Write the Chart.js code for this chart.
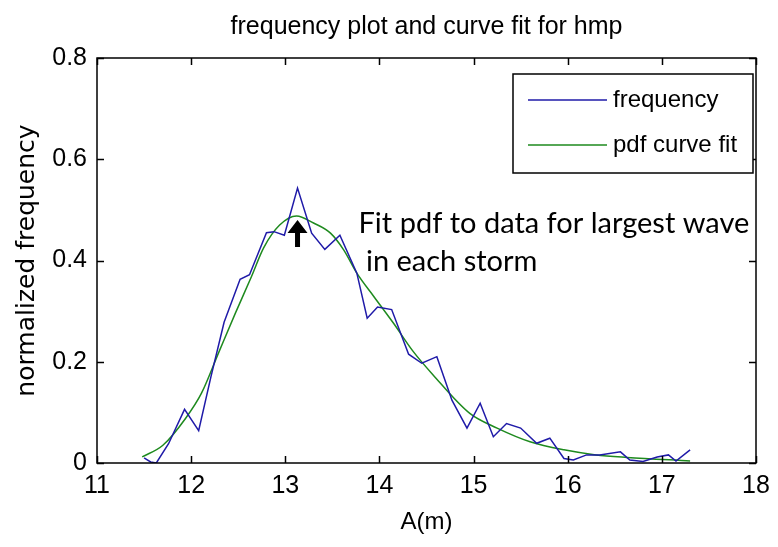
<!DOCTYPE html>
<html>
<head>
<meta charset="utf-8">
<title>frequency plot and curve fit for hmp</title>
<script src="https://cdn.jsdelivr.net/npm/chart.js@4.4.1/dist/chart.umd.min.js"></script>
<style>
  html, body { margin: 0; padding: 0; background: #fff; }
  #wrap { width: 778px; height: 547px; }
</style>
</head>
<body>
<div id="wrap"><canvas id="hmpChart" width="778" height="547"></canvas></div>
<script>
// largest wave in each storm: normalized histogram (blue) and fitted pdf (green)
const freqA = [11.50, 11.57, 11.63, 11.76, 11.93, 12.08, 12.21, 12.35, 12.52, 12.62,
               12.80, 12.88, 12.99, 13.13, 13.28, 13.42, 13.58, 13.76, 13.87, 13.98,
               14.13, 14.31, 14.45, 14.61, 14.77, 14.93, 15.07, 15.21, 15.35, 15.50,
               15.67, 15.81, 15.96, 16.06, 16.20, 16.34, 16.56, 16.66, 16.80, 16.95,
               17.07, 17.15, 17.30];
const freqVal = [0.010, 0.002, 0.000, 0.038, 0.106, 0.064, 0.170, 0.278, 0.363, 0.372,
                 0.455, 0.457, 0.450, 0.543, 0.454, 0.422, 0.450, 0.375, 0.286, 0.308,
                 0.303, 0.215, 0.197, 0.210, 0.124, 0.069, 0.118, 0.052, 0.078, 0.069,
                 0.039, 0.049, 0.009, 0.006, 0.016, 0.016, 0.022, 0.006, 0.003, 0.012,
                 0.016, 0.004, 0.026];

const fitA = [11.48, 11.70, 11.94, 12.11, 12.29, 12.47, 12.64, 12.77, 12.94, 13.12,
              13.30, 13.48, 13.62, 13.76, 13.94, 14.15, 14.36, 14.57, 14.96, 15.25,
              15.60, 15.96, 16.30, 16.63, 17.30];
const fitVal = [0.012, 0.035, 0.088, 0.138, 0.217, 0.296, 0.368, 0.425, 0.470, 0.488,
                0.474, 0.454, 0.421, 0.375, 0.329, 0.276, 0.220, 0.174, 0.098, 0.069,
                0.042, 0.026, 0.016, 0.011, 0.004];

const seriesNames = ['frequency', 'pdf curve fit'];
const seriesColors = ['#1f1aa8', '#1e8a1e'];

const noteLines = ['Fit pdf to data for largest wave', ' in each storm'];
const notePeak = [13.13, 0.48];   // where the arrow points

function toPoints(xs, ys) {
    return xs.map((x, i) => ({x: x, y: ys[i]}));
}

// closed box with ticks pointing inwards on all four sides
const boxAxes = {
    id: 'boxAxes',
    afterDatasetsDraw(chart) {
        const {ctx, chartArea: a, scales: {x, y}} = chart;
        const len = 7;
        ctx.save();
        ctx.strokeStyle = '#000';
        ctx.lineWidth = 1.5;
        ctx.strokeRect(a.left, a.top, a.right - a.left, a.bottom - a.top);
        ctx.beginPath();
        x.ticks.forEach(t => {
            const px = Math.round(x.getPixelForValue(t.value)) + 0.5;
            ctx.moveTo(px, a.bottom); ctx.lineTo(px, a.bottom - len);
            ctx.moveTo(px, a.top); ctx.lineTo(px, a.top + len);
        });
        y.ticks.forEach(t => {
            const py = Math.round(y.getPixelForValue(t.value)) + 0.5;
            ctx.moveTo(a.left, py); ctx.lineTo(a.left + len, py);
            ctx.moveTo(a.right, py); ctx.lineTo(a.right - len, py);
        });
        ctx.stroke();
        ctx.restore();
    }
};

// legend box in the upper right corner of the axes
const boxLegend = {
    id: 'boxLegend',
    afterDraw(chart) {
        const {ctx, chartArea: a} = chart;
        const w = 240, h = 99;
        const left = a.right - 3 - w, top = a.top + 16;
        ctx.save();
        ctx.fillStyle = '#fff';
        ctx.fillRect(left, top, w, h);
        ctx.strokeStyle = '#000';
        ctx.lineWidth = 1.5;
        ctx.strokeRect(left, top, w, h);
        ctx.font = '24px "Liberation Sans", Arial, sans-serif';
        ctx.textBaseline = 'middle';
        ctx.fillStyle = '#000';
        chart.data.datasets.forEach((ds, i) => {
            const yy = top + 26 + i * 45;
            ctx.strokeStyle = ds.borderColor;
            ctx.lineWidth = 1.5;
            ctx.beginPath();
            ctx.moveTo(left + 15, yy);
            ctx.lineTo(left + 94, yy);
            ctx.stroke();
            ctx.fillText(ds.label, left + 100, yy);
        });
        ctx.restore();
    }
};

// annotation text and the arrow at the peak
const peakNote = {
    id: 'peakNote',
    afterDraw(chart) {
        const {ctx, scales: {x, y}} = chart;
        const tx = x.getPixelForValue(notePeak[0]);
        const ty = y.getPixelForValue(notePeak[1]);
        ctx.save();
        ctx.fillStyle = '#000';
        ctx.beginPath();
        ctx.moveTo(tx, ty);
        ctx.lineTo(tx + 10, ty + 13);
        ctx.lineTo(tx + 2.5, ty + 13);
        ctx.lineTo(tx + 2.5, ty + 27);
        ctx.lineTo(tx - 2.5, ty + 27);
        ctx.lineTo(tx - 2.5, ty + 13);
        ctx.lineTo(tx - 10, ty + 13);
        ctx.closePath();
        ctx.fill();
        ctx.font = '29px Lato, "Open Sans", sans-serif';
        ctx.textBaseline = 'alphabetic';
        ctx.fillText(noteLines[0], tx + 61, ty + 13);
        ctx.fillText(noteLines[1], tx + 61, ty + 51);
        ctx.restore();
    }
};

const tickFont = {family: '"Liberation Sans", Arial, sans-serif', size: 25};

new Chart(document.getElementById('hmpChart'), {
    type: 'line',
    data: {
        datasets: [{
            label: seriesNames[0],
            data: toPoints(freqA, freqVal),
            borderColor: seriesColors[0],
            borderWidth: 1.5,
            pointRadius: 0,
            tension: 0
        }, {
            label: seriesNames[1],
            data: toPoints(fitA, fitVal),
            borderColor: seriesColors[1],
            borderWidth: 1.5,
            pointRadius: 0,
            cubicInterpolationMode: 'monotone'
        }]
    },
    options: {
        responsive: false,
        animation: false,
        devicePixelRatio: 1,
        layout: {padding: {left: 0, right: 22, top: 0, bottom: 0}},
        plugins: {
            legend: {display: false},
            tooltip: {enabled: false},
            title: {
                display: true,
                fullSize: false,
                text: 'frequency plot and curve fit for hmp',
                color: '#000',
                font: {family: '"Liberation Sans", Arial, sans-serif', size: 25, weight: 'normal'},
                padding: {top: 12, bottom: 16}
            }
        },
        scales: {
            x: {
                type: 'linear',
                min: 11,
                max: 18,
                grid: {display: false, drawTicks: false},
                border: {display: false},
                ticks: {stepSize: 1, color: '#000', font: tickFont, padding: 8, maxRotation: 0},
                title: {
                    display: true,
                    text: 'A(m)',
                    color: '#000',
                    font: {family: '"Liberation Sans", Arial, sans-serif', size: 24},
                    padding: {top: 0, bottom: 10}
                },
                afterFit(scale) { scale.height = 84; }
            },
            y: {
                type: 'linear',
                min: 0,
                max: 0.8,
                grid: {display: false, drawTicks: false},
                border: {display: false},
                ticks: {stepSize: 0.2, color: '#000', font: tickFont, padding: 10},
                title: {
                    display: true,
                    text: 'normalized frequency',
                    color: '#000',
                    font: {family: '"DejaVu Sans", sans-serif', size: 25},
                    padding: {top: 12, bottom: 0}
                },
                afterFit(scale) { scale.width = 97; }
            }
        }
    },
    plugins: [boxAxes, boxLegend, peakNote]
});
</script>
</body>
</html>
